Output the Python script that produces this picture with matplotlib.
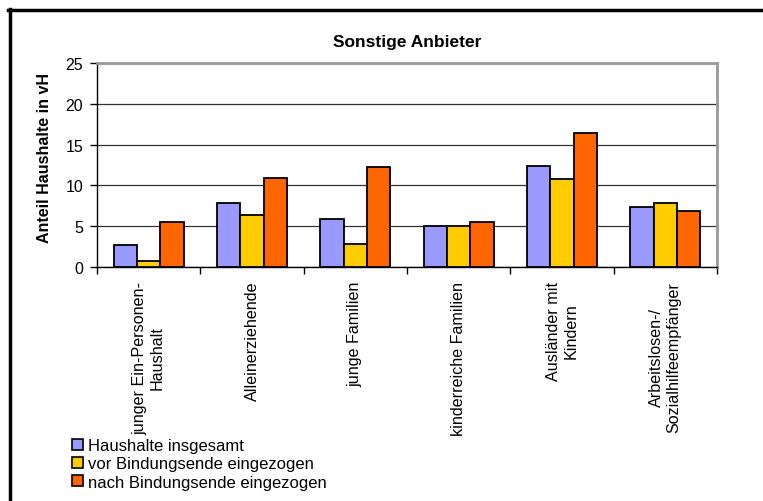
import numpy as np
import matplotlib.pyplot as plt
from matplotlib.lines import Line2D
from matplotlib.patches import Patch

plt.rcParams['font.family'] = ['Liberation Sans', 'DejaVu Sans']

# Daten
kategorien = ['junger Ein-Personen-\nHaushalt', 'Alleinerziehende', 'junge Familien',
              'kinderreiche Familien', 'Ausländer mit\nKindern',
              'Arbeitslosen-/\nSozialhilfeempfänger']
insgesamt = [2.7, 7.8, 5.9, 5.0, 12.4, 7.3]
vor_ende = [0.7, 6.4, 2.8, 5.0, 10.8, 7.9]
nach_ende = [5.5, 10.9, 12.3, 5.5, 16.4, 6.9]
serien = ['Haushalte insgesamt', 'vor Bindungsende eingezogen', 'nach Bindungsende eingezogen']
farben = ['#9999FF', '#FFCC00', '#FF6600']

W, H = 763, 502
fig = plt.figure(figsize=(W / 100, H / 100), dpi=100)
ax = fig.add_axes([97 / W, 1 - 268 / H, 620 / W, 204 / H])

x = np.arange(len(kategorien))
bw = 0.225
for k, (werte, farbe) in enumerate(zip([insgesamt, vor_ende, nach_ende], farben)):
    ax.bar(x + (k - 1) * bw, werte, bw, color=farbe, edgecolor='black', linewidth=1.3, zorder=3)

ax.set_xlim(-0.5, len(kategorien) - 0.5)
ax.set_ylim(0, 25)
ax.set_yticks(range(0, 26, 5))
ax.grid(axis='y', color='#333333', linewidth=0.9, zorder=0)

# Achsen
for s in ['top', 'right']:
    ax.spines[s].set_color('#999999')
    ax.spines[s].set_linewidth(2)
ax.spines['left'].set_color('black')
ax.spines['bottom'].set_color('black')
ax.spines['left'].set_linewidth(1)
ax.spines['bottom'].set_linewidth(1)

ax.tick_params(axis='y', direction='out', length=5, width=1, pad=5, labelsize=11.5)
ax.set_xticks(x)
ax.set_xticklabels(kategorien, rotation=90, va='top', ha='center', multialignment='center', fontsize=11.6)
ax.tick_params(axis='x', which='major', length=0, pad=10)
ax.set_xticks(np.arange(-0.5, len(kategorien)), minor=True)
ax.tick_params(axis='x', which='minor', direction='out', length=5, width=1)

fig.text(407 / W, 1 - 42 / H, 'Sonstige Anbieter', ha='center', va='center',
         fontsize=12.5, fontweight='bold')
fig.text(45 / W, 1 - 158 / H, 'Anteil Haushalte in vH', rotation=90, ha='center', va='center',
         fontsize=11.5, fontweight='bold')

# Legende
handles = [Patch(facecolor=f, edgecolor='black', linewidth=1.2) for f in farben]
fig.legend(handles, serien, loc='upper left', bbox_to_anchor=(72 / W, 1 - 439 / H),
           frameon=False, fontsize=12, handlelength=0.65, handleheight=0.65,
           handletextpad=0.3, labelspacing=0.2, borderpad=0, borderaxespad=0)

# Rahmen (rechts und unten abgeschnitten)
fig.add_artist(Line2D([8 / W, 1], [1 - 11 / H, 1 - 11 / H], transform=fig.transFigure,
                      color='black', linewidth=2.5))
fig.add_artist(Line2D([9.5 / W, 9.5 / W], [1 - 10 / H, 0], transform=fig.transFigure,
                      color='black', linewidth=2.5))

fig.savefig('out.png', dpi=100)
